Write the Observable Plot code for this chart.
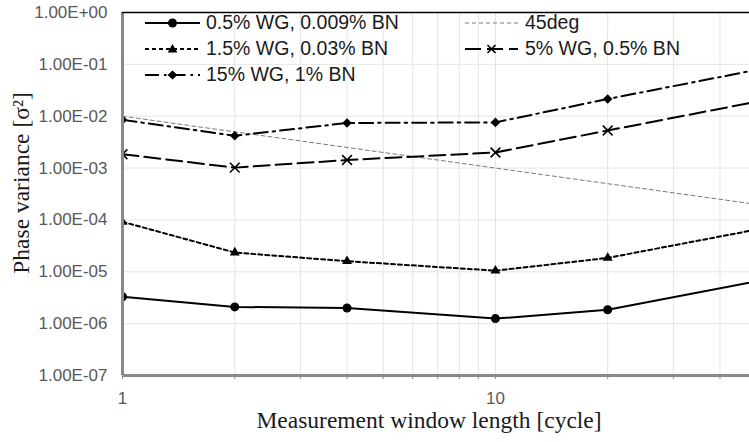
<!DOCTYPE html>
<html>
<head>
<meta charset="utf-8">
<script src="https://cdn.jsdelivr.net/npm/d3@7"></script>
<script src="https://cdn.jsdelivr.net/npm/@observablehq/plot@0.6"></script>
<style>
  html, body { margin: 0; padding: 0; background: white; overflow: hidden; }
  #wrap { position: relative; width: 749px; height: 442px; }
  .lg-text { position: absolute; font-family: "Liberation Sans", Arial, sans-serif; font-size: 19.5px; color: #1a1a1a; white-space: nowrap; line-height: 1; }
  .lg-svg { position: absolute; overflow: visible; }
</style>
</head>
<body>
<div id="wrap"></div>
<script>
// ---- data ----
const windowLength = [1, 2, 4, 10, 20, 50];
const wg05 = [3.3e-6, 2.1e-6, 2.0e-6, 1.25e-6, 1.85e-6, 6.5e-6];
const wg15 = [9.2e-5, 2.35e-5, 1.6e-5, 1.05e-5, 1.85e-5, 6.5e-5];
const wg5 = [1.85e-3, 1.02e-3, 1.43e-3, 2.0e-3, 5.3e-3, 1.9e-2];
const wg150 = [8.5e-3, 4.2e-3, 7.4e-3, 7.6e-3, 2.15e-2, 7.8e-2];
const deg45 = [1e-2, 5e-3, 2.5e-3, 1e-3, 5e-4, 2e-4];
const seriesNames = ["0.5% WG, 0.009% BN", "1.5% WG, 0.03% BN", "15% WG, 1% BN", "45deg", "5% WG, 0.5% BN"];
const yTicks = [1e-7, 1e-6, 1e-5, 1e-4, 1e-3, 1e-2, 1e-1, 1];
const xTicks = [1, 2, 3, 4, 5, 6, 7, 8, 9, 10, 20, 30, 40];
const xTickLabels = {1: "1", 10: "10"};
const xTitle = "Measurement window length [cycle]";
const yTitle = "Phase variance [σ²]";

// ---- styles ----
const styles = {
  wg05: {dash: null, symbol: "circle", r: 4.5},
  wg15: {dash: "4,3", symbol: "triangle", r: 3.7},
  wg150: {dash: "14,5,2.5,5", symbol: "diamond2", r: 4.3},
  wg5: {dash: "16,6", symbol: "times", r: 4.5},
  deg45: {dash: "4,3"}
};

const rows = vals => windowLength.map((x, i) => ({x, y: vals[i]}));

const fmt = d => {
  const [m, e] = d.toExponential(2).toUpperCase().split("E");
  return `${m}E${e[0]}${e.slice(1).padStart(2, "0")}`;
};

function seriesMarks(vals, st) {
  const data = rows(vals);
  const marks = [
    Plot.line(data, {x: "x", y: "y", stroke: "black", strokeWidth: 2, strokeDasharray: st.dash, clip: true})
  ];
  if (st.symbol === "times") {
    marks.push(Plot.dot(data, {x: "x", y: "y", symbol: "times", r: st.r, stroke: "black", strokeWidth: 1.6, clip: true}));
  } else {
    marks.push(Plot.dot(data, {x: "x", y: "y", symbol: st.symbol, r: st.r, fill: "black", stroke: "none", clip: true}));
  }
  return marks;
}

const serif = "'Liberation Serif', 'Times New Roman', serif";

const chart = Plot.plot({
  width: 749,
  height: 442,
  marginLeft: 122,
  marginRight: 0,
  marginTop: 12,
  marginBottom: 67,
  style: {fontFamily: "'Liberation Sans', Arial, sans-serif", fontSize: "17px", color: "#595959", background: "white", overflow: "visible"},
  x: {type: "log", domain: [1, 48]},
  y: {type: "log", domain: [1e-7, 1]},
  marks: [
    Plot.gridX(xTicks, {stroke: "#e4e4e4", strokeOpacity: 1}),
    Plot.gridY(yTicks, {stroke: "#e4e4e4", strokeOpacity: 1}),
    Plot.axisY(yTicks, {tickSize: 0, tickPadding: 15, tickFormat: fmt, label: null}),
    Plot.axisX(xTicks, {tickSize: 4, tickPadding: 12, tickFormat: d => xTickLabels[d] ?? "", label: null, stroke: "#898989"}),
    Plot.line(rows(deg45), {x: "x", y: "y", stroke: "#7a7a7a", strokeWidth: 1, strokeDasharray: styles.deg45.dash, clip: true}),
    ...seriesMarks(wg05, styles.wg05),
    ...seriesMarks(wg15, styles.wg15),
    ...seriesMarks(wg150, styles.wg150),
    ...seriesMarks(wg5, styles.wg5),
    Plot.ruleX([1], {stroke: "#898989", strokeWidth: 3}),
    Plot.ruleY([1e-7], {stroke: "#898989", strokeWidth: 3}),
    Plot.ruleY([1], {stroke: "black", strokeWidth: 1.5}),
    Plot.text([xTitle], {frameAnchor: "bottom", textAnchor: "middle", dy: 52, dx: -7, fontFamily: serif, fontSize: 23.5, fill: "#1a1a1a"}),
    Plot.text([yTitle], {frameAnchor: "left", textAnchor: "middle", rotate: -90, dx: -101, dy: -11, fontFamily: serif, fontSize: 23.5, fill: "#1a1a1a"})
  ]
});

const wrap = document.getElementById("wrap");
wrap.appendChild(chart);

// ---- legend (overlay) ----
const legendItems = [
  {name: seriesNames[0], st: styles.wg05, col: 0, row: 0},
  {name: seriesNames[1], st: styles.wg15, col: 0, row: 1},
  {name: seriesNames[2], st: styles.wg150, col: 0, row: 2},
  {name: seriesNames[3], st: styles.deg45, col: 1, row: 0, thin: true},
  {name: seriesNames[4], st: styles.wg5, col: 1, row: 1}
];
const colX = [{x0: 145, x1: 200, tx: 206}, {x0: 465, x1: 518, tx: 525}];
const rowY = [23, 49, 75];
const ns = "http://www.w3.org/2000/svg";
function markerPath(symbol, cx, cy) {
  if (symbol === "circle") return `M${cx - 4.5},${cy}a4.5,4.5 0 1,0 9,0a4.5,4.5 0 1,0 -9,0Z`;
  if (symbol === "triangle") return `M${cx},${cy - 5}L${cx + 4.8},${cy + 3.5}L${cx - 4.8},${cy + 3.5}Z`;
  if (symbol === "diamond2") return `M${cx},${cy - 4.5}L${cx + 5},${cy}L${cx},${cy + 4.5}L${cx - 5},${cy}Z`;
  if (symbol === "times") return `M${cx - 4},${cy - 4}L${cx + 4},${cy + 4}M${cx - 4},${cy + 4}L${cx + 4},${cy - 4}`;
  return null;
}
for (const it of legendItems) {
  const c = colX[it.col];
  const y = rowY[it.row];
  const w = c.x1 - c.x0;
  const svg = document.createElementNS(ns, "svg");
  svg.setAttribute("class", "lg-svg");
  svg.setAttribute("width", w);
  svg.setAttribute("height", 16);
  svg.style.left = c.x0 + "px";
  svg.style.top = (y - 8) + "px";
  const line = document.createElementNS(ns, "line");
  line.setAttribute("x1", 0); line.setAttribute("x2", w);
  line.setAttribute("y1", 8); line.setAttribute("y2", 8);
  line.setAttribute("stroke", it.thin ? "#7a7a7a" : "black");
  line.setAttribute("stroke-width", it.thin ? 1 : 2);
  if (it.st.dash) line.setAttribute("stroke-dasharray", it.st.dash);
  svg.appendChild(line);
  const p = it.st.symbol ? markerPath(it.st.symbol, w / 2, 8) : null;
  if (p) {
    const path = document.createElementNS(ns, "path");
    path.setAttribute("d", p);
    if (it.st.symbol === "times") {
      path.setAttribute("fill", "none"); path.setAttribute("stroke", "black"); path.setAttribute("stroke-width", 1.6);
    } else {
      path.setAttribute("fill", "black");
    }
    svg.appendChild(path);
  }
  wrap.appendChild(svg);
  const t = document.createElement("div");
  t.className = "lg-text";
  t.textContent = it.name;
  t.style.left = c.tx + "px";
  t.style.top = (y - 10) + "px";
  wrap.appendChild(t);
}
</script>
</body>
</html>
